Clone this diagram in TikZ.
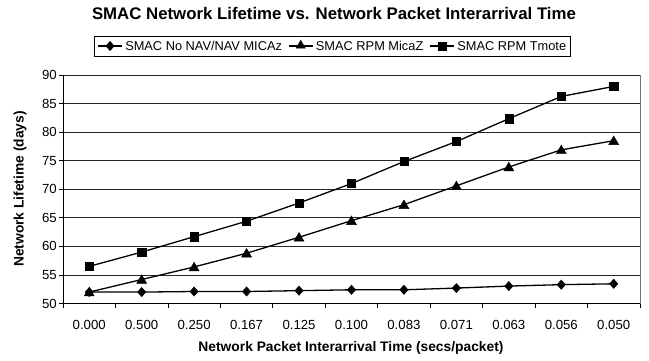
\documentclass[tikz,border=0pt]{standalone}
\usepackage{fontspec}
\setmainfont{Liberation Sans}
\usetikzlibrary{shapes.geometric}
\newlength\legwa \newlength\legwb \newlength\legwc
\newcommand\legfont{\fontsize{12.8}{14}\selectfont}
\AtBeginDocument{%
\settowidth{\legwa}{\legfont SMAC No NAV/NAV MICAz}%
\settowidth{\legwb}{\legfont SMAC RPM MicaZ}%
\settowidth{\legwc}{\legfont SMAC RPM Tmote}}
\begin{document}
\begin{tikzpicture}[x=1pt,y=-1pt,
  gridline/.style={black!85,line width=0.7pt},
  axisline/.style={black,line width=0.8pt},
  series/.style={black,line width=1.3pt},
  sqmark/.style={rectangle,fill=black,draw=black,minimum size=8.2pt,inner sep=0pt},
  trimark/.style={regular polygon,regular polygon sides=3,fill=black,draw=black,minimum size=11.5pt,inner sep=0pt},
  diamark/.style={diamond,fill=black,draw=black,minimum width=8.5pt,minimum height=9.5pt,inner sep=0pt},
  ticklab/.style={font=\fontsize{13.2}{15}\selectfont,inner sep=0pt},
  axtitle/.style={font=\fontsize{13.8}{16}\selectfont\bfseries,inner sep=0pt},
  legtext/.style={font=\legfont,inner sep=0pt,anchor=west}]
\pgfmathsetmacro{\legW}{4+24+3+\legwa+7+24+3+\legwb+7+24+3+\legwc+4}
\pgfmathsetmacro{\lx}{332-\legW/2}
\pgfmathsetmacro{\lxa}{\lx+4}
\pgfmathsetmacro{\lxb}{\lxa+24+3+\legwa+7}
\pgfmathsetmacro{\lxc}{\lxb+24+3+\legwb+7}
\useasboundingbox[fill=white] (0,0) rectangle (649,360);
% title
\node[font=\fontsize{16.8}{18}\selectfont\bfseries,inner sep=0pt] (title) at (334,13) {SMAC Network Lifetime vs. Network Packet Interarrival Time};
% legend
\node[draw=black,line width=0.6pt,minimum width=\legW pt,minimum height=20pt,inner sep=0pt] (legend) at (332,46) {};
\coordinate (l1a) at (\lxa,46); \coordinate (l1b) at (\lxa+24,46);
\draw[series] (l1a) -- (l1b);
\node[diamark] (l1m) at (\lxa+12,46) {};
\node[legtext] (l1t) at (\lxa+27,46) {SMAC No NAV/NAV MICAz};
\coordinate (l2a) at (\lxb,46); \coordinate (l2b) at (\lxb+24,46);
\draw[series] (l2a) -- (l2b);
\node[trimark,minimum size=10.5pt] (l2m) at (\lxb+12,45.5) {};
\node[legtext] (l2t) at (\lxb+27,46) {SMAC RPM MicaZ};
\coordinate (l3a) at (\lxc,46); \coordinate (l3b) at (\lxc+24,46);
\draw[series] (l3a) -- (l3b);
\node[sqmark] (l3m) at (\lxc+12,46) {};
\node[legtext] (l3t) at (\lxc+27,46) {SMAC RPM Tmote};
% plot area
\foreach \v in {55,60,...,90}{
  \draw[gridline] (63,{303.5-(\v-50)*5.7125}) -- (640,{303.5-(\v-50)*5.7125});
}
\draw[black!55,line width=0.7pt] (640,75) -- (640,303.5);
\coordinate (ytop) at (63,75); \coordinate (ybot) at (63,303.5); \coordinate (xend) at (640,303.5);
\draw[axisline] (ytop) -- (ybot) -- (xend);
\foreach \v in {50,55,...,90}{
  \draw[axisline] (59,{303.5-(\v-50)*5.7125}) -- (63,{303.5-(\v-50)*5.7125});
  \node[ticklab,anchor=east] (yl\v) at (57,{303.5-(\v-50)*5.7125}) {\v};
}
\foreach \k in {0,...,11}{
  \draw[axisline] ({63+52.45*\k},303.5) -- ({63+52.45*\k},308);
}
\foreach \lab [count=\i from 0] in {0.000,0.500,0.250,0.167,0.125,0.100,0.083,0.071,0.063,0.056,0.050}{
  \node[ticklab] (xl\i) at ({63+52.45*(\i+0.5)},325) {\lab};
}
\node[axtitle] (xtitle) at (351,348) {Network Packet Interarrival Time (secs/packet)};
\node[axtitle,rotate=90] (ytitle) at (20,189) {Network Lifetime (days)};
% data
\foreach \v [count=\i from 0] in {56.5,59.0,61.7,64.4,67.6,71.0,74.85,78.35,82.35,86.25,88.0}{
  \coordinate (s\i) at ({63+52.45*(\i+0.5)},{303.5-(\v-50)*5.7125});
}
\foreach \v [count=\i from 0] in {52.0,54.2,56.4,58.8,61.6,64.5,67.3,70.6,73.9,76.9,78.5}{
  \coordinate (t\i) at ({63+52.45*(\i+0.5)},{303.5-(\v-50)*5.7125});
}
\foreach \v [count=\i from 0] in {52.0,52.0,52.1,52.1,52.25,52.4,52.4,52.7,53.05,53.3,53.45}{
  \coordinate (d\i) at ({63+52.45*(\i+0.5)},{303.5-(\v-50)*5.7125});
}
\draw[series] (d0) \foreach \i in {1,...,10}{ -- (d\i)};
\draw[series] (t0) \foreach \i in {1,...,10}{ -- (t\i)};
\draw[series] (s0) \foreach \i in {1,...,10}{ -- (s\i)};
\foreach \i in {0,...,10}{
  \node[diamark] (dm\i) at (d\i) {};
  \node[trimark] (tm\i) at ([yshift=-1pt]t\i) {};
  \node[sqmark] (sm\i) at (s\i) {};
}
\end{tikzpicture}
\end{document}
